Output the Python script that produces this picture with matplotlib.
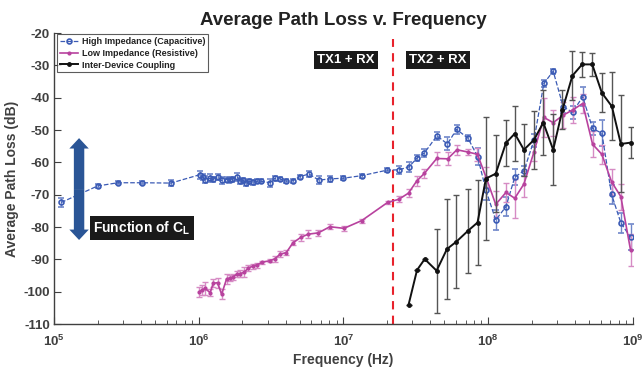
import numpy as np
import matplotlib
matplotlib.use("Agg")
import matplotlib.pyplot as plt
from matplotlib.patches import FancyArrowPatch
from matplotlib.ticker import FixedLocator, FuncFormatter, LogLocator

plt.rcParams['font.family'] = ['Liberation Sans', 'DejaVu Sans']
plt.rcParams['mathtext.fontset'] = 'custom'
plt.rcParams['mathtext.rm'] = 'Liberation Sans:bold'
plt.rcParams['mathtext.bf'] = 'Liberation Sans:bold'
plt.rcParams['axes.unicode_minus'] = False

# High impedance (capacitive)
hi_freq = [1.12e5, 2.0e5, 2.76e5, 4.03e5, 6.43e5,
           1.02e6, 1.07e6, 1.11e6, 1.20e6, 1.26e6, 1.37e6, 1.44e6, 1.56e6, 1.65e6, 1.69e6,
           1.85e6, 1.93e6, 2.03e6, 2.12e6, 2.24e6, 2.38e6, 2.54e6, 2.68e6, 3.11e6, 3.37e6,
           3.65e6, 4.01e6, 4.46e6, 5.0e6, 5.78e6, 6.78e6, 8.07e6, 1.0e7, 1.34e7, 2.01e7,
           2.42e7, 2.84e7, 3.24e7, 3.63e7, 4.43e7, 5.24e7, 6.06e7, 7.26e7, 8.47e7, 9.67e7,
           1.13e8, 1.33e8, 1.53e8, 1.77e8, 2.08e8, 2.43e8, 2.82e8, 3.31e8, 3.84e8, 4.51e8,
           5.28e8, 6.12e8, 7.14e8, 8.28e8, 9.66e8]
hi_loss = [-72.4, -67.3, -66.3, -66.3, -66.4,
           -63.8, -64.6, -65.3, -64.9, -65.2, -64.6, -65.6, -65.3, -65.3, -65.2,
           -64.6, -65.8, -65.5, -66.3, -65.9, -66.1, -65.8, -65.8, -66.3, -64.9,
           -65.1, -65.8, -65.7, -64.4, -63.6, -65.5, -65.1, -64.9, -64.1, -62.4,
           -62.3, -61.4, -58.6, -57.1, -51.8, -54.3, -49.8, -52.5, -58.2, -68.6,
           -77.8, -73.7, -64.6, -62.6, -53.1, -35.6, -31.8, -42.8, -44.5, -39.7,
           -49.5, -51.0, -69.9, -78.7, -83.2]
hi_err = [1.5, 0.6, 0.5, 0.5, 0.8,
          1.2, 1.0, 1.0, 1.2, 0.8, 1.0, 1.2, 0.8, 0.8, 0.8,
          1.2, 1.0, 0.8, 1.0, 0.8, 0.8, 0.6, 0.6, 1.2, 0.8,
          0.6, 0.6, 0.6, 0.6, 1.0, 1.2, 1.0, 0.6, 0.6, 0.6,
          1.2, 1.5, 1.0, 1.2, 1.2, 2.0, 1.5, 1.0, 2.5, 3.0,
          3.0, 3.0, 2.5, 1.5, 2.0, 1.0, 0.8, 2.0, 2.0, 3.0,
          2.0, 4.0, 3.0, 3.0, 4.0]

# Low impedance (resistive)
lo_freq = [1.01e6, 1.05e6, 1.11e6, 1.20e6, 1.26e6, 1.35e6, 1.44e6, 1.56e6, 1.65e6, 1.72e6,
           1.83e6, 1.93e6, 2.06e6, 2.20e6, 2.36e6, 2.52e6, 2.73e6, 3.11e6, 3.37e6, 3.65e6,
           4.03e6, 4.48e6, 5.07e6, 5.72e6, 6.71e6, 8.07e6, 1.01e7, 1.34e7, 2.02e7,
           2.42e7, 2.82e7, 3.21e7, 3.63e7, 4.42e7, 5.26e7, 6.09e7, 7.26e7, 8.45e7, 9.67e7,
           1.13e8, 1.33e8, 1.53e8, 1.77e8, 2.08e8, 2.43e8, 2.82e8, 3.31e8, 3.84e8, 4.51e8,
           5.28e8, 6.12e8, 7.14e8, 8.28e8, 9.66e8]
lo_loss = [-100.0, -99.5, -99.0, -100.3, -97.4, -97.2, -100.8, -96.0, -95.8, -95.5,
           -94.6, -94.4, -94.0, -92.7, -92.1, -91.8, -90.9, -90.4, -89.8, -88.4,
           -87.9, -84.9, -83.2, -82.2, -81.8, -79.9, -80.4, -78.0, -72.4,
           -71.4, -69.5, -65.8, -63.4, -58.8, -58.9, -56.1, -56.8, -57.5, -64.5,
           -73.0, -69.3, -71.1, -66.7, -56.7, -46.1, -47.7, -45.4, -43.8, -41.8,
           -54.4, -57.5, -66.0, -70.6, -87.1]
lo_err = [1.5, 1.5, 2.0, 1.0, 1.2, 1.5, 1.5, 1.5, 1.0, 1.0,
          1.0, 1.0, 1.5, 1.0, 0.8, 0.8, 0.5, 0.5, 1.0, 1.0,
          0.8, 0.8, 1.2, 1.2, 1.0, 0.8, 0.8, 0.6, 0.5,
          1.0, 1.2, 1.5, 1.5, 2.0, 2.0, 1.5, 1.0, 2.0, 3.0,
          4.0, 3.0, 6.0, 4.0, 3.0, 6.0, 4.0, 4.0, 4.0, 3.0,
          4.0, 3.0, 4.0, 4.0, 5.0]

# Inter-device coupling
cp_freq = [2.82e7, 3.23e7, 3.65e7, 4.41e7, 5.2e7, 6.05e7, 7.25e7, 8.46e7, 9.67e7,
           1.13e8, 1.33e8, 1.53e8, 1.77e8, 2.08e8, 2.41e8, 2.82e8, 3.27e8, 3.83e8,
           4.47e8, 5.25e8, 6.12e8, 7.18e8, 8.28e8, 9.66e8]
cp_loss = [-104.1, -93.3, -89.9, -93.5, -86.8, -84.5, -81.2, -78.6, -65.0,
           -63.5, -54.0, -51.1, -56.1, -53.0, -47.7, -56.1, -43.7, -33.2,
           -29.7, -29.7, -38.5, -42.7, -54.3, -53.9]
cp_err = [0, 0, 0, 13.0, 15.5, 14.5, 13.0, 13.0, 19.0,
          12.0, 7.0, 8.5, 8.0, 9.0, 10.0, 11.0, 6.0, 7.5,
          3.8, 3.5, 6.0, 10.5, 15.0, 4.8]

split_freq = 2.2e7

blue = '#3b5bb5'
pink = '#b8429e'
dark = '#111111'
grey = '#404040'

fig = plt.figure(figsize=(6.43, 3.67), dpi=100)
ax = fig.add_axes([0.084, 0.117, 0.900, 0.793])

c1 = ax.errorbar(hi_freq, hi_loss, yerr=hi_err, color=blue, ls='--', lw=0.9,
                 marker='o', ms=3.5, mfc='none', mec=blue, mew=1.2,
                 ecolor='#6f86c9', elinewidth=1.0, capsize=2, capthick=1.0, zorder=3)
c2 = ax.errorbar(lo_freq, lo_loss, yerr=lo_err, color=pink, ls='-', lw=1.2,
                 marker='.', ms=4, mfc=pink, mec=pink,
                 ecolor='#d68bc4', elinewidth=1.0, capsize=2, capthick=1.0, zorder=3)
c3 = ax.errorbar(cp_freq, cp_loss, yerr=cp_err, color=dark, ls='-', lw=1.4,
                 marker='.', ms=5, mfc=dark, mec=dark,
                 ecolor='#555555', elinewidth=1.0, capsize=2, capthick=1.0, zorder=4)

ax.axvline(split_freq, ymin=0, ymax=0.98, color='#e8222c', ls=(0, (4, 3)), lw=1.5, zorder=2)

ax.set_xscale('log')
ax.set_xlim(1e5, 1e9)
ax.set_ylim(-110, -20)
ax.yaxis.set_major_locator(FixedLocator(np.arange(-110, -19, 10)))
ax.xaxis.set_major_locator(LogLocator(base=10, numticks=10))
ax.xaxis.set_minor_locator(LogLocator(base=10, subs=np.arange(2, 10), numticks=20))
ax.xaxis.set_major_formatter(FuncFormatter(lambda v, p: r'$\mathbf{10^{%d}}$' % round(np.log10(v))))

for s in ['top', 'right']:
    ax.spines[s].set_visible(False)
for s in ['left', 'bottom']:
    ax.spines[s].set_color(grey)
    ax.spines[s].set_linewidth(1.0)
ax.tick_params(which='both', direction='in', colors=grey, labelsize=9.5)
ax.tick_params(which='major', length=5, pad=3)
ax.tick_params(which='minor', length=3)
ax.tick_params(axis='x', which='major', pad=7)
for lab in ax.get_yticklabels():
    lab.set_fontweight('bold')

ax.set_title('Average Path Loss v. Frequency', fontsize=13.5, fontweight='bold',
             color='#222222', pad=6)
ax.set_xlabel('Frequency (Hz)', fontsize=10, fontweight='bold', color=grey, labelpad=3)
ax.set_ylabel('Average Path Loss (dB)', fontsize=10, fontweight='bold', color=grey, labelpad=3)

leg = ax.legend([c1[0], c2[0], c3[0]],
                ['High Impedance (Capacitive)', 'Low Impedance (Resistive)', 'Inter-Device Coupling'],
                loc='upper left', bbox_to_anchor=(0.006, 0.995), borderaxespad=0,
                fontsize=6.5, frameon=True, fancybox=False, edgecolor='#333333',
                handlelength=2.0, handletextpad=0.4, labelspacing=0.3, borderpad=0.3)
leg.get_frame().set_linewidth(0.8)
for t in leg.get_texts():
    t.set_fontweight('bold')
    t.set_color('#222222')

box = dict(boxstyle='square,pad=0.25', fc='#1a1a1a', ec='none')
ax.text(1.04e7, -28.4, 'TX1 + RX', ha='center', va='center', color='white',
        fontsize=9.5, fontweight='bold', bbox=box)
ax.text(4.5e7, -28.4, 'TX2 + RX', ha='center', va='center', color='white',
        fontsize=9.5, fontweight='bold', bbox=box)
ax.text(4.06e5, -80.3, r'Function of C$_\mathbf{L}$', ha='center', va='center', color='white',
        fontsize=10, fontweight='bold', bbox=box)

arrow_color = '#2a5596'
for tip in (-52.5, -84.0):
    ax.add_patch(FancyArrowPatch((1.49e5, -68.25), (1.49e5, tip),
                                 arrowstyle='simple,head_width=1.4,head_length=0.75,tail_width=0.75',
                                 mutation_scale=10, color=arrow_color, lw=0,
                                 shrinkA=0, shrinkB=0, zorder=5))

fig.savefig('out.png', dpi=100)
